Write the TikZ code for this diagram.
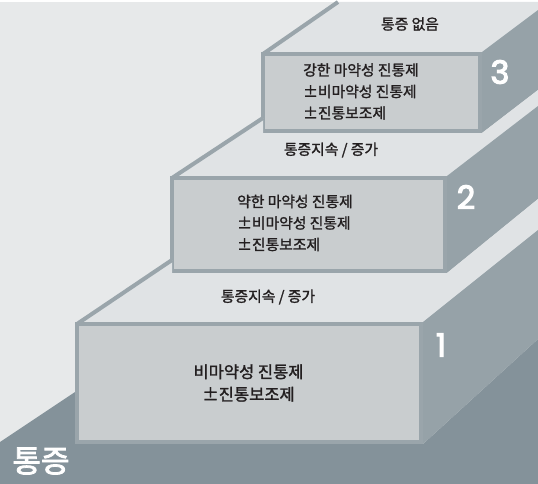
\documentclass[tikz,border=0pt]{standalone}
\usepackage{fontspec}
\newfontfamily\kr{Noto Sans CJK KR}[FakeBold=1.5]
\newfontfamily\krbig{Noto Sans CJK KR}[FakeBold=2.5]
\newfontfamily\numfont{Poppins}[FakeBold=3.5]

\definecolor{wallgray}{HTML}{E7E9EA}
\definecolor{treadgray}{HTML}{E0E3E5}
\definecolor{facegray}{HTML}{C9CDCF}
\definecolor{edgegray}{HTML}{9AA5AB}
\definecolor{sidegray}{HTML}{96A2A8}
\definecolor{floorgray}{HTML}{84929A}
\definecolor{inkgray}{HTML}{231F20}

\tikzset{
  tread/.style={fill=treadgray},
  side/.style={fill=sidegray},
  rail/.style={draw=edgegray, line width=4pt},
  face/.style={rectangle, draw=edgegray, fill=facegray, line width=4pt, inner sep=0pt},
  steptext/.style={text=inkgray, inner sep=0pt, align=left, font=\kr\fontsize{14.8}{21.5}\selectfont},
  stepnum/.style={text=white, inner sep=0pt, font=\numfont\fontsize{32}{32}\selectfont}
}

\begin{document}
\begin{tikzpicture}[x=1pt,y=-1pt]

  \fill[wallgray] (0,0) rectangle (538,482);
  \fill[floorgray] (0,482) -- (0,440) -- (75,390) -- (75,442) -- (423,442) -- (538,337) -- (538,482) -- cycle;

  % step 3
  \fill[tread] (263,52) -- (482,52) -- (538,8) -- (538,0) -- (338,0) -- cycle;
  \draw[rail] (263,52) -- (338,0);
  \fill[side] (482,50) -- (482,131) -- (538,88) -- (538,8) -- cycle;
  \node[face, minimum width=217pt, minimum height=77pt] (face3) at (371.5,90.5) {};

  % step 2
  \fill[tread] (172,176) -- (447,176) -- (538,104) -- (538,88) -- (482,131) -- (263,131) -- (263,116) -- cycle;
  \draw[rail] (172,176) -- (263,116);
  \fill[side] (447,174) -- (447,271) -- (538,197) -- (538,104) -- cycle;
  \node[face, minimum width=273pt, minimum height=93pt] (face2) at (308.5,222.5) {};

  % step 1
  \fill[tread] (77,322) -- (423,322) -- (538,228) -- (538,197) -- (447,271) -- (172,271) -- (172,258) -- cycle;
  \draw[rail] (77,322) -- (172,258);
  \fill[side] (423,320) -- (423,442) -- (538,337) -- (538,228) -- cycle;
  \node[face, minimum width=344pt, minimum height=118pt] (face1) at (249,381) {};

  \begin{scope}[every node/.style={steptext}]
    \node (nopain)  at (410,22)  {통증 없음};
    \node (persist2) at (331,148) {통증지속 / 증가};
    \node (persist1) at (268,295) {통증지속 / 증가};
    \node[anchor=west] (drug3) at (303,89.5) {강한 마약성 진통제\\±비마약성 진통제\\±진통보조제};
    \node[anchor=west] (drug2) at (237,221) {약한 마약성 진통제\\±비마약성 진통제\\±진통보조제};
    \node[align=center, font=\kr\fontsize{16.5}{22.5}\selectfont] (drug1) at (248.5,381) {비마약성 진통제\\±진통보조제};
  \end{scope}

  \begin{scope}[every node/.style={stepnum}]
    \node (n3) at (500,70)  {3};
    \node (n2) at (466,195) {2};
    \node (n1) at (441,343) {1};
  \end{scope}

  \node[text=white, inner sep=0pt, font=\krbig\fontsize{31}{31}\selectfont] (pain) at (41,459) {통증};

\end{tikzpicture}
\end{document}
